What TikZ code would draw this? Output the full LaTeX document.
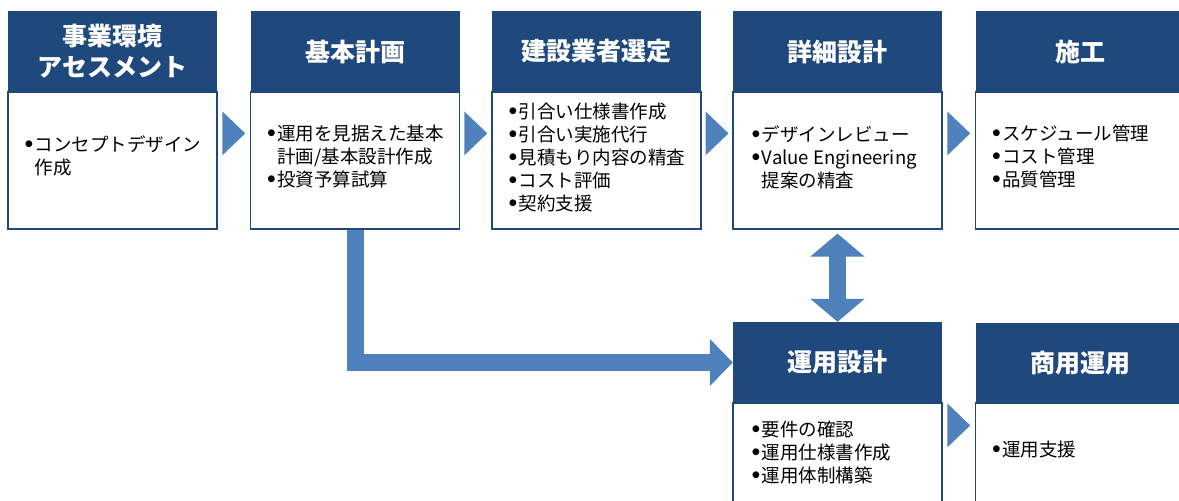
\documentclass[tikz,border=0pt]{standalone}
\usepackage{fontspec}
\setmainfont{Noto Sans CJK JP}
\newfontfamily\bulfont{Liberation Sans}
\usetikzlibrary{arrows.meta,calc}
\definecolor{hdr}{HTML}{1F497D}
\definecolor{arr}{HTML}{4F81BD}
\newcommand\itm{\raisebox{-0.8pt}{\scalebox{1.35}{\bulfont •}}\kern1.5pt}
\newcommand\cnt{\hphantom{\itm}}
\newcommand\chev[3]{\fill[chevron] ($(#1.north east)!.5!(#2.north west)+(-11.5,#3)$) -- ++(23,22) -- ++(-23,22) -- cycle;}
\tikzset{
 hdrbox/.style={fill=hdr, minimum width=209pt, minimum height=81pt, inner sep=0pt, text=white, font=\fontsize{25}{31}\selectfont\bfseries, align=center},
 bodybox/.style={draw=hdr, line width=1.2pt, fill=white, minimum width=209pt, inner sep=0pt},
 bodytext/.style={anchor=west, inner sep=0pt, align=left, font=\fontsize{18.5}{23}\selectfont},
 chevron/.style={fill=arr},
 bigarrow/.style={draw=arr, line width=17pt, line join=miter},
}
\begin{document}
\begin{tikzpicture}[x=1pt,y=-1pt]
\useasboundingbox[fill=white] (0,0) rectangle (1179,501);
% top row bodies
\node[bodybox, minimum height=137pt] (b1b) at (112.5,160.5) {};
\node[bodybox, minimum height=137pt] (b2b) at (355,160.5) {};
\node[bodybox, minimum height=137pt] (b3b) at (596.5,160.5) {};
\node[bodybox, minimum height=137pt] (b4b) at (837.5,160.5) {};
\node[bodybox, minimum height=137pt] (b5b) at (1080,160.5) {};
% top row headers
\node[hdrbox] (b1h) at (112.5,51.5) {事業環境\\アセスメント};
\node[hdrbox] (b2h) at (355,51.5) {基本計画};
\node[hdrbox] (b3h) at (596.5,51.5) {建設業者選定};
\node[hdrbox] (b4h) at (837.5,51.5) {詳細設計};
\node[hdrbox] (b5h) at (1080,51.5) {施工};
% bottom row
\node[bodybox, minimum height=137pt] (opb) at (837.5,471.5) {};
\node[bodybox, minimum height=137pt] (cub) at (1080,471.5) {};
\node[hdrbox] (oph) at (837.5,362.5) {運用設計};
\node[hdrbox] (cuh) at (1080,363) {商用運用};
% body texts
\node[bodytext] (t1) at ($(b1b.north west)+(17,65)$) {\itm コンセプトデザイン\\\cnt 作成};
\node[bodytext] (t2) at ($(b2b.north west)+(17,65)$) {\itm 運用を見据えた基本\\\cnt 計画/基本設計作成\\\itm 投資予算試算};
\node[bodytext] (t3) at ($(b3b.north west)+(17,66)$) {\itm 引合い仕様書作成\\\itm 引合い実施代行\\\itm 見積もり内容の精査\\\itm コスト評価\\\itm 契約支援};
\node[bodytext] (t4) at ($(b4b.north west)+(19,66)$) {\itm デザインレビュー\\\itm Value Engineering\\\cnt 提案の精査};
\node[bodytext] (t5) at ($(b5b.north west)+(17,65)$) {\itm スケジュール管理\\\itm コスト管理\\\itm 品質管理};
\node[bodytext] (t6) at ($(opb.north west)+(19,50)$) {\itm 要件の確認\\\itm 運用仕様書作成\\\itm 運用体制構築};
\node[bodytext] (t7) at ($(cub.north west)+(17,47)$) {\itm 運用支援};
% chevrons
\chev{b1b}{b2b}{20}
\chev{b2b}{b3b}{20}
\chev{b3b}{b4b}{20}
\chev{b4b}{b5b}{20}
\chev{opb}{cub}{1}
% big arrows
\draw[bigarrow, -{Triangle[width=46pt,length=23pt]}] (b2b.south) |- (oph.west);
\draw[bigarrow, {Triangle[width=53pt,length=23pt]}-{Triangle[width=53pt,length=23pt]}, shorten <=4pt] (b4b.south) -- (oph.north);
\end{tikzpicture}
\end{document}
